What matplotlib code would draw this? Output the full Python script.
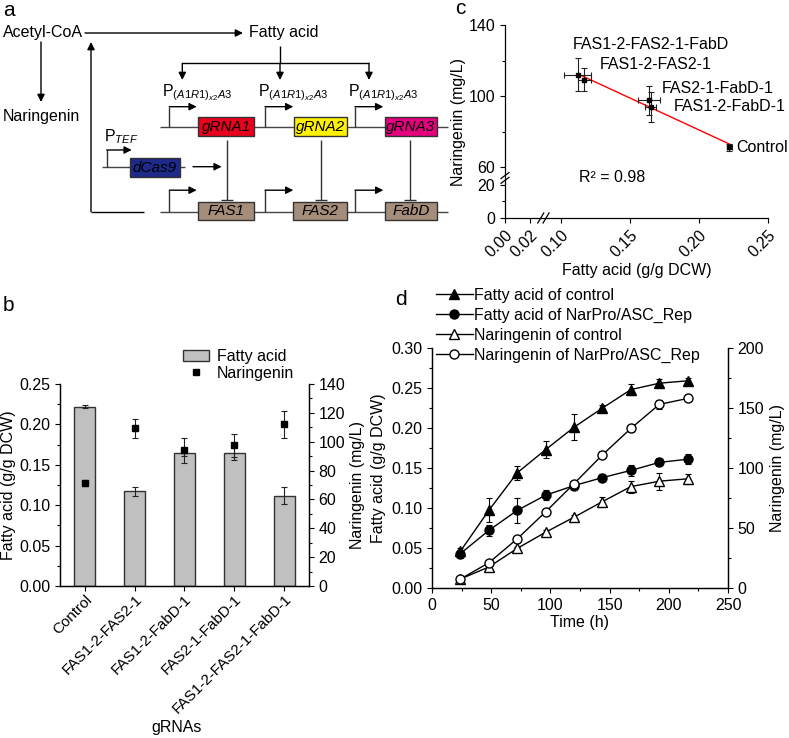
import numpy as np
import matplotlib
matplotlib.use("Agg")
import matplotlib.pyplot as plt
from matplotlib.patches import Rectangle, Patch
from matplotlib.lines import Line2D
from matplotlib.ticker import MultipleLocator, FixedLocator

plt.rcParams['font.family'] = ['Liberation Sans', 'DejaVu Sans']
plt.rcParams['font.size'] = 11.5
plt.rcParams['mathtext.fontset'] = 'custom'
plt.rcParams['mathtext.rm'] = 'Liberation Sans'
plt.rcParams['mathtext.it'] = 'Liberation Sans:italic'
plt.rcParams['axes.linewidth'] = 0.9
for a in ('xtick', 'ytick'):
    plt.rcParams[a + '.direction'] = 'out'
    plt.rcParams[a + '.major.size'] = 3.5
    plt.rcParams[a + '.minor.size'] = 2
    plt.rcParams[a + '.major.width'] = 0.8
    plt.rcParams[a + '.minor.width'] = 0.8
    plt.rcParams[a + '.labelsize'] = 11.5

# ---- panel b / c data ----
groups = ['Control', 'FAS1-2-FAS2-1', 'FAS1-2-FabD-1', 'FAS2-1-FabD-1', 'FAS1-2-FAS2-1-FabD-1']
c_labels = ['Control', 'FAS1-2-FAS2-1', 'FAS1-2-FabD-1', 'FAS2-1-FabD-1', 'FAS1-2-FAS2-1-FabD']
fa_mean = [0.222, 0.117, 0.165, 0.164, 0.112]
fa_err = [0.002, 0.005, 0.004, 0.008, 0.010]
nar_mean = [71.3, 109.2, 94.0, 97.6, 112.0]
nar_err = [2.0, 6.5, 8.5, 8.0, 9.2]

# ---- panel d data ----
time = [24, 48, 72, 96, 120, 144, 168, 192, 216]
fa_ctrl = [0.046, 0.097, 0.144, 0.173, 0.201, 0.225, 0.248, 0.256, 0.259]
fa_ctrl_err = [0.004, 0.015, 0.009, 0.011, 0.016, 0.004, 0.007, 0.005, 0.003]
fa_rep = [0.043, 0.072, 0.097, 0.116, 0.128, 0.138, 0.147, 0.157, 0.161]
fa_rep_err = [0.005, 0.007, 0.016, 0.006, 0.004, 0.004, 0.007, 0.005, 0.006]
nar_ctrl = [7.5, 17.5, 33.0, 46.5, 59.0, 72.0, 84.5, 89.0, 91.0]
nar_ctrl_err = [1.0, 1.0, 1.5, 2.0, 2.0, 3.5, 5.0, 7.0, 4.0]
nar_rep = [7.5, 21.0, 41.0, 63.5, 87.0, 111.0, 133.0, 153.0, 158.0]
nar_rep_err = [1.0, 1.0, 1.0, 1.0, 1.0, 3.0, 3.0, 4.0, 2.0]

W, H = 789, 738
fig = plt.figure(figsize=(W / 100, H / 100), dpi=100)


def rect(l, t, r, b):
    return [l / W, 1 - b / H, (r - l) / W, (b - t) / H]


# ================= panel a (schematic, pixel coords) =================
a0 = fig.add_axes([0, 0, 1, 1])
a0.set_xlim(0, W)
a0.set_ylim(H, 0)
a0.axis('off')


def arrow(x1, y1, x2, y2):
    a0.annotate('', xy=(x2, y2), xytext=(x1, y1),
                arrowprops=dict(arrowstyle='-|>', color='k', lw=1.0,
                                mutation_scale=11, shrinkA=0, shrinkB=0))


def line(xs, ys, c='k', lw=1.0):
    a0.plot(xs, ys, color=c, lw=lw, solid_capstyle='butt')


def promoter(x, y, h, x2):
    line([x, x], [y, y - h], c='#333333')
    arrow(x, y - h, x2, y - h)


def box(x1, x2, yc, fc, txt):
    a0.add_patch(Rectangle((x1, yc - 9.3), x2 - x1, 18.6, fc=fc, ec='#333333', lw=1, zorder=3))
    a0.text((x1 + x2) / 2, yc, txt, style='italic', ha='center', va='center', fontsize=11, zorder=4)


a0.text(3, 33, 'Acetyl-CoA', ha='left', va='center')
arrow(85, 33, 243, 33)
a0.text(249, 33, 'Fatty acid', ha='left', va='center')
arrow(41, 42, 41, 102)
a0.text(3, 117, 'Naringenin', ha='left', va='center')
line([144, 91], [211.7, 211.7])
arrow(91, 211.7, 91, 42)

# fatty acid -> promoters
line([280, 280], [46, 63.3])
line([182.3, 369], [63.3, 63.3])
for xx in (182.3, 280, 369):
    arrow(xx, 63.3, xx, 80)

# gene lines
line([160, 448], [126.7, 126.7], c='#444444')
line([160, 448], [211.7, 211.7], c='#444444')
line([102, 185], [166.7, 166.7], c='#444444')

for px, px2 in ((169.3, 196.7), (265, 293.3), (355, 383.3)):
    promoter(px, 126.7, 20, px2)
    promoter(px, 211.7, 21.5, px2)
for px in (161.7, 258.3, 348.3):
    a0.text(px, 93, r'P$_{(A1R1)_{x2}A3}$', ha='left', va='center', fontsize=11.5)

promoter(106.7, 166.7, 16.7, 131.7)
a0.text(104, 137, r'P$_{TEF}$', ha='left', va='center', fontsize=11.5)
box(130, 180, 167.5, '#1d2a8a', 'dCas9')
arrow(193, 166.7, 221.7, 166.7)

box(198.3, 254, 126.7, '#e8001c', 'gRNA1')
box(294, 346.7, 126.7, '#fff200', 'gRNA2')
box(385, 437, 126.7, '#e4007f', 'gRNA3')
box(198.3, 254, 211, '#a58d7b', 'FAS1')
box(293.3, 346.7, 211, '#a58d7b', 'FAS2')
box(385, 437, 211, '#a58d7b', 'FabD')

for xx in (226.7, 320.7, 410):
    line([xx, xx], [140, 199.5], c='#333333')
    line([xx - 6, xx + 6], [199.5, 199.5], c='#333333')

# panel letters
fig.text(3 / W, 1 - 11 / H, 'a', fontsize=15, va='center')
fig.text(3 / W, 1 - 306 / H, 'b', fontsize=15, va='center')
fig.text(455 / W, 1 - 8 / H, 'c', fontsize=15, va='center')
fig.text(395 / W, 1 - 299 / H, 'd', fontsize=15, va='center')

# ================= panel b =================
ab = fig.add_axes(rect(60, 384, 309, 586))
xb = np.arange(len(groups))
ab.bar(xb, fa_mean, width=0.42, yerr=fa_err, color='#c0c0c0', edgecolor='#333333', lw=1,
       capsize=2.5, error_kw=dict(elinewidth=0.8, capthick=0.8, ecolor='#222222'))
ab.set_xlim(-0.5, 4.5)
ab.set_ylim(0, 0.25)
ab.yaxis.set_major_locator(MultipleLocator(0.05))
ab.yaxis.set_minor_locator(MultipleLocator(0.025))
ab.yaxis.set_major_formatter(matplotlib.ticker.FormatStrFormatter('%.2f'))
ab.set_xticks(xb)
ab.set_xticklabels(groups, rotation=45, ha='right', rotation_mode='anchor', fontsize=11)
ab.tick_params(axis='x', pad=1)
ab.set_ylabel('Fatty acid (g/g DCW)', labelpad=2)
ab.set_xlabel('gRNAs')
ab.xaxis.set_label_coords(0.47, -0.665)
ab.spines['top'].set_visible(False)

ab2 = ab.twinx()
ab2.errorbar(xb, nar_mean, yerr=nar_err, fmt='s', ms=4, color='k', ecolor='#222222',
             elinewidth=0.8, capsize=2.5, capthick=0.8)
ab2.set_ylim(0, 140)
ab2.yaxis.set_major_locator(MultipleLocator(20))
ab2.yaxis.set_minor_locator(MultipleLocator(10))
ab2.set_ylabel('Naringenin (mg/L)', labelpad=3)
ab2.spines['top'].set_visible(False)

hb = [Patch(fc='#c0c0c0', ec='#333333', lw=1),
      Line2D([], [], ls='none', marker='s', ms=4, color='k')]
fig.legend(hb, ['Fatty acid', 'Naringenin'], loc='upper left', bbox_to_anchor=(183 / W, 1 - 349 / H),
           frameon=False, handlelength=1.6, handletextpad=0.5, labelspacing=0.1,
           borderpad=0, borderaxespad=0, fontsize=11.5)

# ================= panel c =================
ac = fig.add_axes(rect(505, 25, 768, 218))
xk = [-1, 0, 0.02, 0.10, 0.25, 1.25]
xp = [-1250, 0, 25, 56, 263.3, 1645]
yk = [-100, 0, 20, 60, 140, 240]
yp = [-166, 0, 33.3, 50.6, 193, 371]
ac.set_xscale('function', functions=(lambda v: np.interp(v, xk, xp), lambda v: np.interp(v, xp, xk)))
ac.set_yscale('function', functions=(lambda v: np.interp(v, yk, yp), lambda v: np.interp(v, yp, yk)))
ac.set_xlim(0, 0.25)
ac.set_ylim(0, 140)
ac.xaxis.set_major_locator(FixedLocator([0, 0.02, 0.10, 0.15, 0.20, 0.25]))
ac.xaxis.set_minor_locator(FixedLocator([]))
ac.yaxis.set_major_locator(FixedLocator([0, 20, 60, 100, 140]))
ac.yaxis.set_minor_locator(FixedLocator([10, 80, 120]))
ac.set_xticklabels(['0.00', '0.02', '0.10', '0.15', '0.20', '0.25'], rotation=45, ha='right',
                   rotation_mode='anchor')
ac.set_yticklabels(['0', '20', '60', '100', '140'])
ac.spines['top'].set_visible(False)
ac.spines['right'].set_visible(False)
ac.set_xlabel('Fatty acid (g/g DCW)', labelpad=2)
ac.set_ylabel('Naringenin (mg/L)', labelpad=2)

k, b0 = np.polyfit(fa_mean, nar_mean, 1)
xfit = np.array([min(fa_mean), max(fa_mean)])
ac.plot(xfit, k * xfit + b0, color='#ff0000', lw=1.0, zorder=2)
ac.errorbar(fa_mean, nar_mean, xerr=fa_err, yerr=nar_err, fmt='s', ms=3.5, color='k',
            ecolor='#222222', elinewidth=0.8, capsize=2.5, capthick=0.8, zorder=3)
offs = [(7, 0), (15, 15), (23, 0), (12, 12), (-5, 30)]
for xv, yv, lab, o in zip(fa_mean, nar_mean, c_labels, offs):
    ac.annotate(lab, (xv, yv), xytext=o, textcoords='offset pixels', ha='left', va='center',
                annotation_clip=False)
fig.text(579 / W, 1 - 177 / H, 'R² = 0.98', ha='left', va='center')

# axis break marks
for xb_ in (0.136, 0.156):
    ac.plot([xb_ - 3 / 263, xb_ + 3 / 263], [-5 / 193, 5 / 193], color='k', lw=0.9,
            transform=ac.transAxes, clip_on=False, zorder=5)
for yb_ in (0.195, 0.22):
    ac.plot([-4 / 263, 4 / 263], [yb_ - 3 / 193, yb_ + 3 / 193], color='k', lw=0.9,
            transform=ac.transAxes, clip_on=False, zorder=5)

# ================= panel d =================
ad = fig.add_axes(rect(432, 348, 728, 588))
ek = dict(ecolor='k', elinewidth=0.8, capsize=2.5, capthick=0.8, lw=1.0, color='k', ms=6.5)
ad.errorbar(time, fa_ctrl, yerr=fa_ctrl_err, fmt='-^', mfc='k', **ek)
ad.errorbar(time, fa_rep, yerr=fa_rep_err, fmt='-o', mfc='k', **ek)
ad.set_xlim(0, 250)
ad.set_ylim(0, 0.30)
ad.xaxis.set_major_locator(MultipleLocator(50))
ad.xaxis.set_minor_locator(MultipleLocator(25))
ad.yaxis.set_major_locator(MultipleLocator(0.05))
ad.yaxis.set_minor_locator(MultipleLocator(0.025))
ad.yaxis.set_major_formatter(matplotlib.ticker.FormatStrFormatter('%.2f'))
ad.set_xlabel('Time (h)', labelpad=2)
ad.set_ylabel('Fatty acid (g/g DCW)', labelpad=4)
ad.spines['top'].set_visible(False)

ad2 = ad.twinx()
ad2.errorbar(time, nar_ctrl, yerr=nar_ctrl_err, fmt='-^', mfc='white', **ek)
ad2.errorbar(time, nar_rep, yerr=nar_rep_err, fmt='-o', mfc='white', **ek)
ad2.set_ylim(0, 200)
ad2.yaxis.set_major_locator(MultipleLocator(50))
ad2.yaxis.set_minor_locator(MultipleLocator(25))
ad2.set_ylabel('Naringenin (mg/L)', labelpad=4)
ad2.spines['top'].set_visible(False)

hd = [Line2D([], [], color='k', lw=1, marker='^', ms=6.5, mfc='k'),
      Line2D([], [], color='k', lw=1, marker='o', ms=6.5, mfc='k'),
      Line2D([], [], color='k', lw=1, marker='^', ms=6.5, mfc='white'),
      Line2D([], [], color='k', lw=1, marker='o', ms=6.5, mfc='white')]
fig.legend(hd, ['Fatty acid of control', 'Fatty acid of NarPro/ASC_Rep',
                'Naringenin of control', 'Naringenin of NarPro/ASC_Rep'],
           loc='upper left', bbox_to_anchor=(436 / W, 1 - 288 / H), frameon=False,
           handlelength=2.3, handletextpad=0.1, labelspacing=0.3, borderpad=0,
           borderaxespad=0, fontsize=11.5)

fig.savefig('out.png', dpi=100)
